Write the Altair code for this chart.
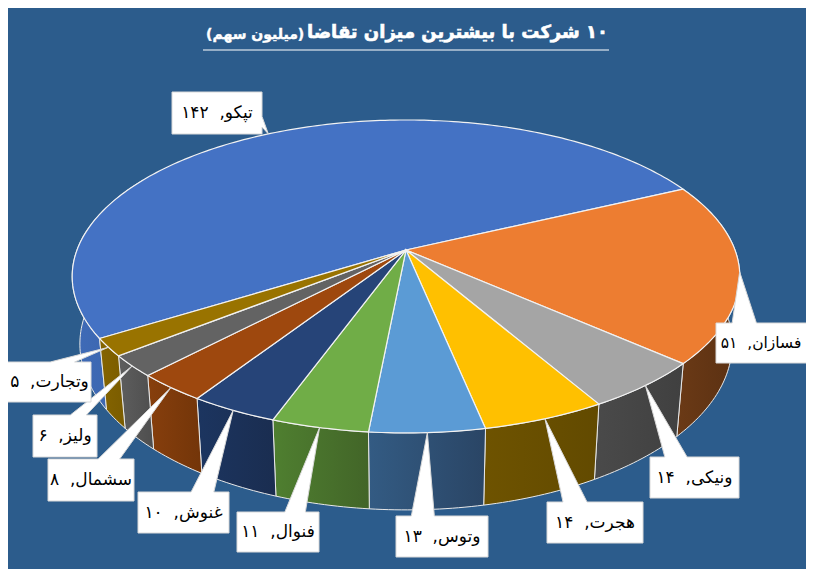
import math
import altair as alt

names = ["تپکو", "فسازان", "ونیکی", "هجرت", "وتوس", "فنوال", "غنوش", "سشمال", "ولیز", "وتجارت"]
values = [142, 51, 14, 14, 13, 11, 10, 8, 6, 5]
digits = ["۱۴۲", "۵۱", "۱۴", "۱۴", "۱۳", "۱۱", "۱۰", "۸", "۶", "۵"]
top_colors = ["#4472C4", "#ED7D31", "#A5A5A5", "#FFC000", "#5B9BD5", "#70AD47", "#264478", "#9E480E", "#636363", "#997300"]
wall_left = ["#3F6BB8", "#6B3A16", "#4A4A4A", "#6E5300", "#335B83", "#4F7F30", "#1C3560", "#873F0D", "#5E5E5E", "#856400"]
wall_right = ["#3A62A8", "#5A3012", "#404040", "#624A00", "#2A4565", "#426528", "#1A2D50", "#733509", "#4E4E4E", "#7A5C00"]
# label boxes: left, right, top, bottom
boxes = [(172, 262, 92, 134), (716, 813, 323, 363), (650, 739, 457, 498), (547, 643, 502, 543),
         (396, 488, 516, 557), (237, 319, 512, 552), (138, 229, 492, 533), (48, 134, 459, 501),
         (33, 97, 415, 457), (-7, 91, 362, 402)]
label_sizes = [17, 15.5, 17, 17, 17, 17, 17, 17, 17, 17]

BG = "#2C5C8C"
CX, CY, A, B, K = 406.0, 250.0, 329.0, 152.0, 0.169
WALL_DX, WALL_DY, WALL_H = 0.977, 1.06, 66.0
START = 238.0
VIS_L, VIS_R = 8, 806


def top_pt(deg):
    u, v = math.sin(math.radians(deg)), -math.cos(math.radians(deg))
    d = 1 - K * v
    return (CX + A * u / d, CY + B * v / d)


def bot_pt(deg):
    x, y = top_pt(deg)
    return (CX + (x - CX) * WALL_DX, CY + WALL_H + (y - CY) * WALL_DY)


def arc(fn, a0, a1):
    n = max(2, int(abs(a1 - a0)) + 1)
    return [fn(a0 + (a1 - a0) * i / n) for i in range(n + 1)]


def feature(ring, name):
    ring = [list(p) for p in ring]
    ring.append(ring[0])
    return {"type": "Feature", "geometry": {"type": "Polygon", "coordinates": [ring]}, "properties": {"name": name}}


total = sum(values)
walls, tops, callouts, labels = [], [], [], []
a = START
for name, val, dig, box, fs in zip(names, values, digits, boxes, label_sizes):
    sweep = 360.0 * val / total
    a1 = a + sweep
    # the big slice only shows its wall on the left, up to the far side of the pie
    wall_end = min(a1, 300.0) if sweep > 180 else a1
    walls.append(feature(arc(top_pt, a, wall_end) + arc(bot_pt, wall_end, a), name))
    tops.append(feature([(CX, CY)] + arc(top_pt, a, a1), name))
    tip = top_pt(a + sweep / 2)
    l, r, t, b = box
    w, h = r - l, b - t
    bx, by = (l + r) / 2, (t + b) / 2
    if abs(tip[0] - bx) / w > abs(tip[1] - by) / h and tip[0] > r:
        poly = [(l, t), (r, t), (r, t + h * 7 / 12), tip, (r, t + h * 10 / 12), (r, b), (l, b)]
    elif tip[0] < bx:
        poly = [(l, t), (l + w / 6, t), tip, (l + w * 5 / 12, t), (r, t), (r, b), (l, b)]
    else:
        poly = [(l, t), (l + w * 7 / 12, t), tip, (l + w * 10 / 12, t), (r, t), (r, b), (l, b)]
    callouts.append(feature(poly, name))
    labels.append({"x": (max(l, VIS_L) + min(r, VIS_R)) / 2, "y": by, "fs": fs, "t": f"{name},\u00a0\u00a0{dig}"})
    a = a1

PROJ = dict(type="identity", scale=1, translate=[-8, -8])
order = alt.Scale(domain=names, range=top_colors)

wall_layers = [
    alt.Chart(alt.Data(values=[wall])).mark_geoshape(
        stroke="#E8E8E8", strokeWidth=1,
        fill=alt.LinearGradient(gradient="linear", x1=0, x2=1, y1=0, y2=0,
                                stops=[alt.GradientStop(color=cl, offset=0), alt.GradientStop(color=cr, offset=1)])
    ).project(**PROJ)
    for wall, cl, cr in zip(walls, wall_left, wall_right)
]
top_layer = alt.Chart(alt.Data(values=tops)).mark_geoshape(stroke="#F2F2F2", strokeWidth=1.2).encode(
    color=alt.Color("properties.name:N", scale=order, legend=None)).project(**PROJ)
call_layer = alt.Chart(alt.Data(values=callouts)).mark_geoshape(fill="white", stroke="#D9D9D9", strokeWidth=1).project(**PROJ)
text_layer = alt.Chart(alt.Data(values=labels)).mark_text(
    font="DejaVu Sans", color="black", baseline="middle", align="center").encode(
    longitude="x:Q", latitude="y:Q", text="t:N", size=alt.Size("fs:Q", scale=None, legend=None)).project(**PROJ)

titles = [
    {"x": 608, "y": 33, "t": "\u200f۱۰ شرکت با بیشترین میزان تقاضا"},
]
subtitle = [{"x": 206, "y": 35, "t": "(میلیون سهم)"}]
title_layer = alt.Chart(alt.Data(values=titles)).mark_text(
    font="DejaVu Sans", fontSize=18, fontWeight="bold", color="white", stroke="white", strokeWidth=0.6,
    align="right", baseline="middle").encode(
    longitude="x:Q", latitude="y:Q", text="t:N").project(**PROJ)
sub_layer = alt.Chart(alt.Data(values=subtitle)).mark_text(
    font="DejaVu Sans", fontSize=14, fontWeight="bold", color="white", stroke="white", strokeWidth=0.4,
    align="left", baseline="middle").encode(
    longitude="x:Q", latitude="y:Q", text="t:N").project(**PROJ)
underline = alt.Chart(alt.Data(values=[{"type": "Feature", "properties": {"name": "u"},
                                       "geometry": {"type": "LineString", "coordinates": [[203, 50], [609, 50]]}}])
                      ).mark_geoshape(filled=False, stroke="white", strokeWidth=1.2).project(**PROJ)

chart = alt.layer(*wall_layers, top_layer, call_layer, text_layer, title_layer, sub_layer, underline).properties(
    width=798, height=561, background=BG, padding=0,
    autosize=alt.AutoSizeParams(type="none")).configure_view(stroke=None)

chart.save("out.html", embed_options={"renderer": "svg", "actions": False})
